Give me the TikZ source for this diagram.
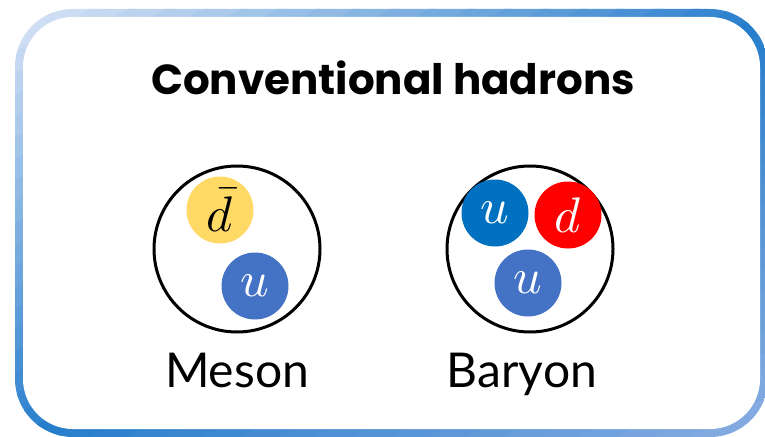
\documentclass[tikz,border=0pt]{standalone}
\usepackage{fontspec}
\usepackage{unicode-math}
\setmainfont{Poppins}
\setmathfont{Latin Modern Math}
\newfontfamily\namefont{Lato}
\definecolor{frameone}{RGB}{214,226,245}
\definecolor{frametwo}{RGB}{38,125,204}
\definecolor{framethree}{RGB}{140,175,226}
\definecolor{quarkyellow}{RGB}{255,217,102}
\definecolor{quarkblue}{RGB}{68,114,196}
\definecolor{quarkdeep}{RGB}{0,112,192}
\definecolor{quarkred}{RGB}{255,0,0}
\usetikzlibrary{positioning}

\begin{document}
\begin{tikzpicture}[
        x=1pt, y=-1pt,
        hadron/.style={circle, draw=black, line width=3pt, minimum size=166pt, inner sep=0pt},
        quark/.style={circle, minimum size=67pt, inner sep=0pt, text=white,
                      font=\fontsize{50}{50}\selectfont},
        hadname/.style={font=\namefont\fontsize{48}{48}\selectfont, inner sep=0pt}
      ]
        \useasboundingbox (0,0) rectangle (765,436);
        % frame: diagonal colour bands clipped to the rounded box
        \begin{scope}
          \clip[rounded corners=58pt] (15,9) rectangle (768,437);
          \begin{scope}[shift={(15,9)}, x=753pt, y=-428pt]
            \foreach \i in {0,...,39} {
              \pgfmathsetmacro\ca{\i/20}
              \pgfmathsetmacro\cb{(\i+1.2)/20}
              \ifnum\i<20
                \pgfmathtruncatemacro\p{5*\i}
                \colorlet{bandcol}{frametwo!\p!frameone}
              \else
                \pgfmathtruncatemacro\p{5*(\i-20)}
                \colorlet{bandcol}{framethree!\p!frametwo}
              \fi
              \fill[bandcol] (\ca,0) -- (\cb,0) -- ({\cb-1},1) -- ({\ca-1},1) -- cycle;
            }
          \end{scope}
        \end{scope}
        \fill[white, rounded corners=50pt] (23,17) rectangle (760,429);
        \node[font=\bfseries\fontsize{42}{42}\selectfont] (title) at (393,78) {Conventional hadrons};
        % meson
        \node[hadron] (meson) at (237,249) {};
        \node[quark, fill=quarkyellow, text=black] (dbar) at (220,210) {$\bar{d}$};
        \node[quark, fill=quarkblue] (umeson) at (255,286) {$u$};
        \node[hadname, below=19pt of meson] (mesonname) {Meson};
        % baryon
        \node[hadron] (baryon) at (530,249) {};
        \node[quark, fill=quarkdeep] (uone) at (495,213) {$u$};
        \node[quark, fill=quarkred] (dbaryon) at (568,215) {$d$};
        \node[quark, fill=quarkblue] (utwo) at (528,283) {$u$};
        \node[hadname, below=19pt of baryon, xshift=-8pt] (baryonname) {Baryon};
      \end{tikzpicture}
\end{document}
